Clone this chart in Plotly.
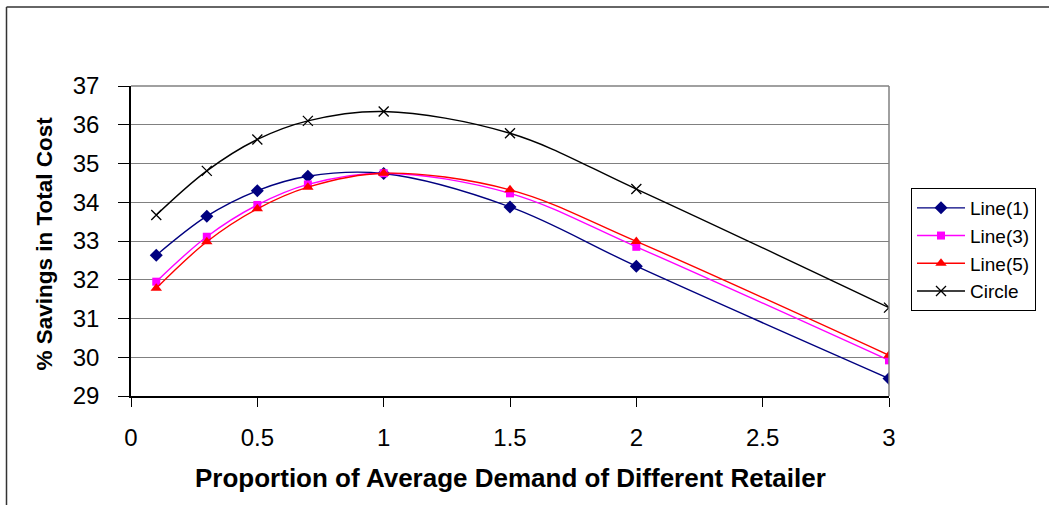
import plotly.graph_objects as go

x_vals = [0.1, 0.3, 0.5, 0.7, 1.0, 1.5, 2.0, 3.0]
line1 = [32.63, 33.64, 34.30, 34.67, 34.74, 33.88, 32.35, 29.45]
line3 = [31.95, 33.11, 33.93, 34.46, 34.75, 34.23, 32.85, 29.92]
line5 = [31.78, 32.98, 33.83, 34.39, 34.75, 34.32, 32.99, 30.05]
circle = [33.67, 34.81, 35.62, 36.10, 36.34, 35.78, 34.34, 31.28]
x_ticks = [0, 0.5, 1, 1.5, 2, 2.5, 3]
x_tick_text = ["0", "0.5", "1", "1.5", "2", "2.5", "3"]
y_ticks = [29, 30, 31, 32, 33, 34, 35, 36, 37]

W, H = 1049, 505
L, R, T, B = 131, 889, 86, 396
pw, ph = R - L, B - T


def px(xp):
    return (xp - L) / pw


def py(yp):
    return (B - yp) / ph


FONT = "Liberation Sans, Arial, sans-serif"

fig = go.Figure()
series = [
    ("Line(1)", line1, "#000080", "diamond", 10, None),
    ("Line(3)", line3, "#FF00FF", "square", 8, None),
    ("Line(5)", line5, "#FF0000", "triangle-up", 10, None),
    ("Circle", circle, "#000000", "x-thin", 10, 1.3),
]
for name, vals, col, sym, sz, lw in series:
    marker = dict(symbol=sym, size=sz, color=col)
    if lw:
        marker["line"] = dict(color=col, width=lw)
    else:
        marker["line"] = dict(width=0)
    fig.add_trace(go.Scatter(
        x=x_vals, y=vals, name=name, mode="lines+markers",
        line=dict(color=col, width=1.4, shape="spline", smoothing=1.0),
        marker=marker,
    ))

fig.update_layout(
    width=W, height=H,
    margin=dict(l=L, r=W - R, t=T, b=H - B),
    paper_bgcolor="white", plot_bgcolor="white",
    font=dict(family=FONT, color="black"),
    showlegend=True,
    legend=dict(
        x=px(911), y=py(188), xanchor="left", yanchor="top",
        bordercolor="black", borderwidth=1, bgcolor="white",
        font=dict(size=19, family=FONT), itemwidth=48,
        tracegroupgap=0,
    ),
    xaxis=dict(
        range=[0, 3], tickvals=x_ticks, ticktext=x_tick_text,
        showgrid=False, zeroline=False,
        showline=True, linecolor="black", linewidth=1.5,
        ticks="outside", ticklen=9, tickcolor="black", tickwidth=1,
        tickfont=dict(size=24, family=FONT), ticklabelstandoff=10,
    ),
    yaxis=dict(
        range=[29, 37], tickvals=y_ticks,
        showgrid=True, gridcolor="#808080", gridwidth=1,
        zeroline=False,
        showline=True, linecolor="black", linewidth=1.5,
        ticks="outside", ticklen=11, tickcolor="black", tickwidth=1,
        tickfont=dict(size=24, family=FONT), ticklabelstandoff=14,
    ),
    annotations=[
        dict(text="<b>Proportion of Average Demand of Different Retailer</b>",
             xref="paper", yref="paper", x=0.5, y=py(478),
             xanchor="center", yanchor="middle", showarrow=False,
             font=dict(size=26, family=FONT, color="black")),
        dict(text="<b>% Savings in Total Cost</b>",
             xref="paper", yref="paper", x=px(44), y=py(243.5),
             xanchor="center", yanchor="middle", showarrow=False,
             textangle=-90,
             font=dict(size=22.5, family=FONT, color="black")),
    ],
    shapes=[
        dict(type="line", xref="paper", yref="paper", x0=1, x1=1, y0=0, y1=1,
             line=dict(color="#808080", width=1.5)),
        dict(type="line", xref="paper", yref="paper", x0=0, x1=1, y0=1, y1=1,
             line=dict(color="#808080", width=1.5)),
        dict(type="line", xref="paper", yref="paper", x0=px(6.5), x1=px(6.5),
             y0=py(7), y1=py(520), line=dict(color="#333333", width=1.5)),
        dict(type="line", xref="paper", yref="paper", x0=px(6.5), x1=px(1060),
             y0=py(7), y1=py(7), line=dict(color="#333333", width=1.5)),
    ],
)

fig.write_html("out.html")
